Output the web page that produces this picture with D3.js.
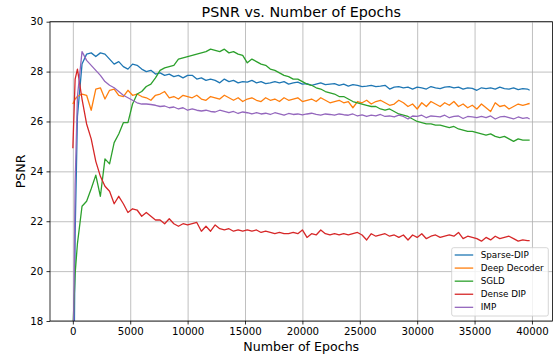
<!DOCTYPE html>
<html>
<head>
<meta charset="utf-8">
<script src="https://cdn.jsdelivr.net/npm/d3@7"></script>
<style>
  html, body { margin: 0; padding: 0; background: #fff; }
  svg { display: block; font-family: 'DejaVu Sans', sans-serif; }
</style>
</head>
<body>
<div id="chart"></div>
<script>
const epochs = [
    0, 200, 400, 800, 1200, 1600, 2000, 2400, 2800, 3200,
    3600, 4000, 4400, 4800, 5200, 5600, 6000, 6400, 6800, 7200,
    7600, 8000, 8400, 8800, 9200, 9600, 10000, 10400, 10800, 11200,
    11600, 12000, 12400, 12800, 13200, 13600, 14000, 14400, 14800, 15200,
    15600, 16000, 16400, 16800, 17200, 17600, 18000, 18400, 18800, 19200,
    19600, 20000, 20400, 20800, 21200, 21600, 22000, 22400, 22800, 23200,
    23600, 24000, 24400, 24800, 25200, 25600, 26000, 26400, 26800, 27200,
    27600, 28000, 28400, 28800, 29200, 29600, 30000, 30400, 30800, 31200,
    31600, 32000, 32400, 32800, 33200, 33600, 34000, 34400, 34800, 35200,
    35600, 36000, 36400, 36800, 37200, 37600, 38000, 38400, 38800, 39200,
    39600, 39800,
]

const sparseDip = [
    10.0, 21.5, 26.2, 28.3, 28.7, 28.75, 28.6, 28.75, 28.7, 28.5,
    28.3, 28.4, 28.2, 28.1, 28.3, 28.25, 28.1, 28.0, 28.05, 27.9,
    27.95, 27.85, 27.9, 27.8, 27.85, 27.75, 27.85, 27.85, 27.7, 27.75,
    27.65, 27.7, 27.65, 27.55, 27.7, 27.6, 27.65, 27.55, 27.6, 27.58,
    27.65, 27.55, 27.6, 27.52, 27.55, 27.6, 27.55, 27.6, 27.5, 27.55,
    27.58, 27.5, 27.52, 27.45, 27.5, 27.55, 27.48, 27.5, 27.52, 27.45,
    27.5, 27.42, 27.48, 27.45, 27.4, 27.42, 27.45, 27.4, 27.42, 27.45,
    27.3, 27.38, 27.4, 27.35, 27.38, 27.3, 27.38, 27.35, 27.3, 27.4,
    27.35, 27.32, 27.38, 27.4, 27.35, 27.38, 27.3, 27.35, 27.33, 27.25,
    27.35, 27.32, 27.35, 27.3, 27.38, 27.32, 27.3, 27.35, 27.28, 27.32,
    27.3, 27.25,
]

const deepDecoder = [
    26.7, 26.9, 27.0, 27.1, 27.05, 26.45, 27.3, 27.35, 26.9, 27.25,
    27.3, 27.05, 27.0, 27.25, 27.05, 27.1, 27.0, 26.95, 26.85, 27.05,
    27.1, 27.2, 26.95, 27.0, 26.9, 27.05, 27.0, 26.95, 27.05, 26.9,
    26.85, 27.0, 26.95, 26.9, 27.05, 26.95, 26.85, 26.95, 26.8, 26.9,
    26.95, 26.85, 26.8, 26.95, 26.85, 26.9, 26.8, 26.95, 26.85, 26.9,
    26.95, 26.8, 26.85, 26.9, 26.8, 26.95, 26.85, 26.75, 26.8, 26.85,
    26.75, 26.8, 26.55, 26.8, 26.75, 26.85, 26.7, 26.8, 26.85, 26.75,
    26.65, 26.7, 26.85, 26.75, 26.6, 26.7, 26.5, 26.75, 26.6, 26.8,
    26.7, 26.6, 26.75, 26.65, 26.8, 26.6, 26.7, 26.55, 26.65, 26.5,
    26.7, 26.55, 26.4, 26.75, 26.6, 26.65, 26.5, 26.6, 26.7, 26.65,
    26.7, 26.72,
]

const sgld = [
    17.6, 19.9, 21.1, 22.6, 22.8, 23.3, 23.85, 23.0, 24.5, 24.3,
    25.15, 25.5, 25.95, 25.95, 26.7, 27.1, 27.2, 27.4, 27.5, 27.75,
    28.05, 28.15, 28.2, 28.25, 28.5, 28.55, 28.6, 28.65, 28.7, 28.75,
    28.8, 28.9, 28.85, 28.8, 28.9, 28.75, 28.8, 28.7, 28.65, 28.35,
    28.5, 28.4, 28.3, 28.25, 28.1, 28.05, 27.95, 27.85, 27.8, 27.7,
    27.7, 27.6, 27.5, 27.45, 27.35, 27.3, 27.2, 27.15, 27.1, 27.0,
    27.0, 26.9, 26.8, 26.75, 26.7, 26.65, 26.6, 26.6, 26.5, 26.45,
    26.5, 26.4, 26.3, 26.25, 26.2, 26.1, 26.0, 25.95, 25.9, 25.9,
    25.85, 25.85, 25.8, 25.75, 25.8, 25.7, 25.65, 25.6, 25.6, 25.55,
    25.5, 25.45, 25.5, 25.4, 25.35, 25.4, 25.3, 25.2, 25.3, 25.25,
    25.25, 25.25,
]

const denseDip = [
    24.93, 27.7, 28.1, 26.9, 25.9, 25.3, 24.4, 23.8, 23.4, 23.2,
    22.7, 23.0, 22.7, 22.35, 22.5, 22.45, 22.2, 22.35, 22.2, 22.05,
    22.05, 21.9, 22.1, 21.9, 21.8, 21.9, 21.85, 21.9, 21.95, 21.6,
    21.8, 21.6, 21.85, 21.7, 21.65, 21.7, 21.6, 21.65, 21.6, 21.65,
    21.6, 21.65, 21.55, 21.6, 21.55, 21.5, 21.55, 21.5, 21.5, 21.55,
    21.5, 21.65, 21.35, 21.5, 21.45, 21.65, 21.5, 21.45, 21.5, 21.45,
    21.5, 21.45, 21.5, 21.55, 21.45, 21.25, 21.5, 21.4, 21.45, 21.5,
    21.4, 21.45, 21.35, 21.45, 21.25, 21.45, 21.35, 21.5, 21.3, 21.4,
    21.45, 21.35, 21.4, 21.45, 21.4, 21.55, 21.3, 21.4, 21.35, 21.3,
    21.2, 21.35, 21.25, 21.4, 21.3, 21.35, 21.4, 21.3, 21.2, 21.25,
    21.22, 21.22,
]

const imp = [
    15.0, 23.5, 27.0, 28.8, 28.45, 28.25, 28.05, 27.85, 27.6, 27.45,
    27.35, 27.2, 27.05, 26.95, 26.85, 26.75, 26.7, 26.7, 26.68, 26.65,
    26.6, 26.62, 26.55, 26.58, 26.5, 26.55, 26.45, 26.5, 26.45, 26.42,
    26.45, 26.4, 26.38, 26.45, 26.4, 26.35, 26.4, 26.32, 26.38, 26.35,
    26.3, 26.35, 26.3, 26.33, 26.28, 26.35, 26.3, 26.25, 26.32, 26.28,
    26.3, 26.26, 26.3, 26.33, 26.28, 26.25, 26.3, 26.28, 26.25, 26.3,
    26.27, 26.25, 26.3, 26.22, 26.26, 26.2, 26.25, 26.22, 26.28, 26.2,
    26.22, 26.18, 26.25, 26.2, 26.1, 26.22, 26.2, 26.25, 26.15, 26.22,
    26.2, 26.18, 26.25, 26.15, 26.2, 26.22, 26.12, 26.2, 26.18, 26.15,
    26.2, 26.15, 26.22, 26.1, 26.18, 26.2, 26.15, 26.1, 26.18, 26.12,
    26.15, 26.1,
]

const seriesNames = ['Sparse-DIP', 'Deep Decoder', 'SGLD', 'Dense DIP', 'IMP']
const seriesValues = [sparseDip, deepDecoder, sgld, denseDip, imp]
const colors = ['#1f77b4', '#ff7f0e', '#2ca02c', '#d62728', '#9467bd']

const xTicks = [0, 5000, 10000, 15000, 20000, 25000, 30000, 35000, 40000]
const yTicks = [18, 20, 22, 24, 26, 28, 30]

const title = 'PSNR vs. Number of Epochs'
const xLabel = 'Number of Epochs'
const yLabel = 'PSNR'

// Frame
const W = 553
const H = 358
const margin = { top: 21.7, right: 0.5, bottom: 37, left: 50 }
const w = W - margin.left - margin.right
const h = H - margin.top - margin.bottom

const svg = d3
    .select('#chart')
    .append('svg')
    .attr('width', W)
    .attr('height', H)

// matplotlib style 5% margins around the data range
const xMin = d3.min(epochs)
const xMax = d3.max(epochs)
const pad = (xMax - xMin) * 0.05

const xScale = d3
    .scaleLinear()
    .domain([xMin - pad, xMax + pad])
    .range([0, w])

const yScale = d3.scaleLinear().domain([18, 30]).range([h, 0])

const plot = svg
    .append('g')
    .attr('transform', `translate(${margin.left}, ${margin.top})`)

svg.append('defs')
    .append('clipPath')
    .attr('id', 'plot-area')
    .append('rect')
    .attr('x', 0)
    .attr('y', 0)
    .attr('width', w)
    .attr('height', h)

// Grid
const gridX = plot
    .append('g')
    .attr('transform', `translate(0, ${h})`)
    .call(d3.axisBottom(xScale).tickValues(xTicks).tickSize(-h).tickFormat(''))
gridX.select('.domain').remove()
gridX.selectAll('line').attr('stroke', '#b0b0b0').attr('stroke-width', 0.8)

const gridY = plot
    .append('g')
    .call(d3.axisLeft(yScale).tickValues(yTicks).tickSize(-w).tickFormat(''))
gridY.select('.domain').remove()
gridY.selectAll('line').attr('stroke', '#b0b0b0').attr('stroke-width', 0.8)

// Lines
const linePath = d3
    .line()
    .x((d) => xScale(d[0]))
    .y((d) => yScale(d[1]))

const lines = plot.append('g').attr('clip-path', 'url(#plot-area)')

seriesValues.forEach((values, i) => {
    lines
        .append('path')
        .datum(epochs.map((e, j) => [e, values[j]]))
        .attr('d', linePath)
        .attr('fill', 'none')
        .attr('stroke', colors[i])
        .attr('stroke-width', 1.3)
        .attr('stroke-linejoin', 'round')
})

// Axes
const xAxis = plot
    .append('g')
    .attr('transform', `translate(0, ${h})`)
    .call(
        d3
            .axisBottom(xScale)
            .tickValues(xTicks)
            .tickFormat(d3.format('d'))
            .tickSizeInner(3.5)
            .tickSizeOuter(0)
            .tickPadding(3.6)
    )

const yAxis = plot
    .append('g')
    .call(
        d3
            .axisLeft(yScale)
            .tickValues(yTicks)
            .tickFormat(d3.format('d'))
            .tickSizeInner(3.5)
            .tickSizeOuter(0)
            .tickPadding(3.2)
    )

;[xAxis, yAxis].forEach((axis) => {
    axis.select('.domain').remove()
    axis.selectAll('line').attr('stroke', '#000').attr('stroke-width', 0.8)
    axis.selectAll('text')
        .attr('fill', '#000')
        .style('font-size', '10.2px')
        .style('font-family', "'DejaVu Sans', sans-serif")
})

// Spines
plot.append('rect')
    .attr('x', 0)
    .attr('y', 0)
    .attr('width', w)
    .attr('height', h)
    .attr('fill', 'none')
    .attr('stroke', '#000')
    .attr('stroke-width', 0.8)

// Texts
svg.append('text')
    .attr('x', margin.left + w / 2)
    .attr('y', 16.7)
    .attr('text-anchor', 'middle')
    .style('font-size', '14.3px')
    .text(title)

svg.append('text')
    .attr('x', margin.left + w / 2)
    .attr('y', 350.7)
    .attr('text-anchor', 'middle')
    .style('font-size', '12.6px')
    .text(xLabel)

svg.append('text')
    .attr('transform', `translate(25, ${margin.top + h / 2}) rotate(-90)`)
    .attr('text-anchor', 'middle')
    .style('font-size', '12.6px')
    .text(yLabel)

// Legend
const legend = svg.append('g').attr('transform', 'translate(451.7, 247.7)')

legend
    .append('rect')
    .attr('width', 96.6)
    .attr('height', 68.3)
    .attr('rx', 2)
    .attr('fill', '#fff')
    .attr('fill-opacity', 0.8)
    .attr('stroke', '#cccccc')
    .attr('stroke-width', 0.8)

seriesNames.forEach((name, i) => {
    const cy = 7.3 + i * 13.08
    legend
        .append('line')
        .attr('x1', 3)
        .attr('x2', 21.5)
        .attr('y1', cy)
        .attr('y2', cy)
        .attr('stroke', colors[i])
        .attr('stroke-width', 1.3)
    legend
        .append('text')
        .attr('x', 29)
        .attr('y', cy)
        .attr('dy', '0.35em')
        .style('font-size', '8.8px')
        .text(name)
})
</script>
</body>
</html>
